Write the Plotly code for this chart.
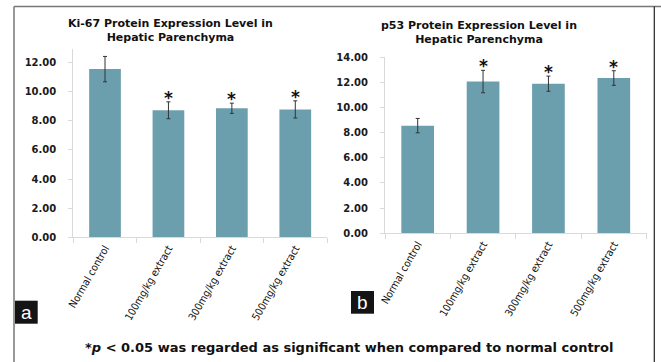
import plotly.graph_objects as go

categories = ["Normal control", "100mg/kg extract", "300mg/kg extract", "500mg/kg extract"]
ki67_values = [11.55, 8.72, 8.86, 8.78]
ki67_errors = [0.87, 0.58, 0.35, 0.59]
ki67_signif = [False, True, True, True]
p53_values = [8.55, 12.05, 11.88, 12.33]
p53_errors = [0.57, 0.89, 0.60, 0.58]
p53_signif = [False, True, True, True]
ki67_ticks = [0, 2, 4, 6, 8, 10, 12]
p53_ticks = [0, 2, 4, 6, 8, 10, 12, 14]
title_a = "Ki-67 Protein Expression Level in<br>Hepatic Parenchyma"
title_b = "p53 Protein Expression Level in<br>Hepatic Parenchyma"
footnote = "*<i>p</i> < 0.05 was regarded as significant when compared to normal control"

BAR = "#6b9fae"
AX = "#d9d9d9"
CATFONT = dict(family="DejaVu Sans Condensed, Liberation Sans Narrow, Arial Narrow, sans-serif", size=10.5, color="#111111")

fig = go.Figure()
fig.add_trace(go.Bar(x=categories, y=ki67_values, marker_color=BAR, marker_line_width=0,
                     error_y=dict(type="data", array=ki67_errors, color="#333333", thickness=1, width=2),
                     xaxis="x", yaxis="y", showlegend=False))
fig.add_trace(go.Bar(x=categories, y=p53_values, marker_color=BAR, marker_line_width=0,
                     error_y=dict(type="data", array=p53_errors, color="#333333", thickness=1, width=2),
                     xaxis="x2", yaxis="y2", showlegend=False))

annotations = []
for c, v, e, s in zip(categories, ki67_values, ki67_errors, ki67_signif):
    if s:
        annotations.append(dict(x=c, y=v + e, xref="x", yref="y", text="<b>*</b>", showarrow=False,
                                font=dict(family="DejaVu Sans", size=17, color="#111"), yanchor="middle", yshift=4))
for c, v, e, s in zip(categories, p53_values, p53_errors, p53_signif):
    if s:
        annotations.append(dict(x=c, y=v + e, xref="x2", yref="y2", text="<b>*</b>", showarrow=False,
                                font=dict(family="DejaVu Sans", size=17, color="#111"), yanchor="middle", yshift=4))

annotations += [
    dict(x=170.5 / 661, y=1 - 30 / 362, xref="paper", yref="paper", text="<b>" + title_a + "</b>",
         showarrow=False, font=dict(family="DejaVu Sans", size=11, color="#111"), align="center",
         xanchor="center", yanchor="middle"),
    dict(x=479 / 661, y=1 - 32.5 / 362, xref="paper", yref="paper", text="<b>" + title_b + "</b>",
         showarrow=False, font=dict(family="DejaVu Sans", size=11, color="#111"), align="center",
         xanchor="center", yanchor="middle"),
    dict(x=349 / 661, y=1 - 347 / 362, xref="paper", yref="paper", text="<b>" + footnote + "</b>",
         showarrow=False, font=dict(family="DejaVu Sans", size=13, color="#111"),
         xanchor="center", yanchor="middle"),
    dict(x=26.3 / 661, y=1 - 312.2 / 362, xref="paper", yref="paper", text="a",
         showarrow=False, font=dict(family="Liberation Sans", size=19, color="white"),
         xanchor="center", yanchor="middle"),
    dict(x=362.5 / 661, y=1 - 302.4 / 362, xref="paper", yref="paper", text="b",
         showarrow=False, font=dict(family="Liberation Sans", size=19, color="white"),
         xanchor="center", yanchor="middle"),
]

shapes = [
    dict(type="rect", xref="paper", yref="paper", x0=15 / 661, x1=37.7 / 661, y0=1 - 323.7 / 362, y1=1 - 300.7 / 362,
         fillcolor="#141414", line_width=0, layer="below"),
    dict(type="rect", xref="paper", yref="paper", x0=351 / 661, x1=374 / 661, y0=1 - 313.7 / 362, y1=1 - 291 / 362,
         fillcolor="#141414", line_width=0, layer="below"),
    dict(type="line", xref="paper", yref="paper", x0=14 / 661, x1=1, y0=1 - 6.5 / 362, y1=1 - 6.5 / 362,
         line=dict(color="#777777", width=1.5)),
    dict(type="line", xref="paper", yref="paper", x0=14 / 661, x1=14 / 661, y0=0, y1=1 - 6.5 / 362,
         line=dict(color="#777777", width=1.5)),
    dict(type="line", xref="paper", yref="paper", x0=654.3 / 661, x1=654.3 / 661, y0=0, y1=1 - 6.5 / 362,
         line=dict(color="#222222", width=1.2)),
]

common_x = dict(type="category", showline=True, linecolor=AX, linewidth=1, ticks="outside", tickcolor=AX,
                ticklen=5, tickson="boundaries", tickangle=-60, tickfont=CATFONT, showgrid=False, zeroline=False,
                automargin=False)
common_y = dict(showline=True, linecolor=AX, linewidth=1, ticks="outside", tickcolor=AX, ticklen=4,
                tickfont=dict(family="DejaVu Sans", size=10, color="#1a1a1a", weight="bold"), tickformat=".2f",
                showgrid=False, zeroline=False, ticklabelstandoff=10, automargin=False)

fig.update_layout(
    width=661, height=362,
    margin=dict(l=0, r=0, t=0, b=0, pad=0, autoexpand=False),
    paper_bgcolor="white", plot_bgcolor="white",
    bargap=0.5,
    hovermode=False,
    xaxis=dict(domain=[73.3 / 661, 327 / 661], anchor="y", **common_x),
    yaxis=dict(domain=[1 - 237.3 / 362, 1 - 49 / 362], anchor="x", range=[0, 12.93],
               tickvals=ki67_ticks, **common_y),
    xaxis2=dict(domain=[385 / 661, 646.5 / 661], anchor="y2", **common_x),
    yaxis2=dict(domain=[1 - 233.3 / 362, 1 - 57 / 362], anchor="x2", range=[0, 14],
                tickvals=p53_ticks, **common_y),
    annotations=annotations,
    shapes=shapes,
)

fig.write_html("out.html", config={"displayModeBar": False, "staticPlot": True},
               post_script="document.body.style.margin='0';")
